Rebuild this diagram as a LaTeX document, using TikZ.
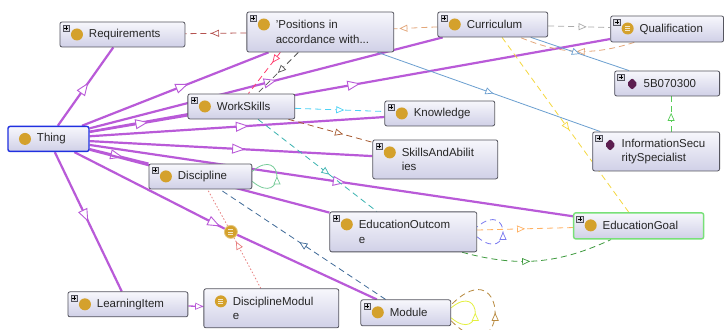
\documentclass[tikz,border=0pt]{standalone}
\usepackage{fontspec}
\setmainfont{Liberation Sans}
\usepackage{tikz}
\usetikzlibrary{arrows.meta,decorations.markings}

\definecolor{boxtop}{HTML}{F7F7FC}
\definecolor{boxbot}{HTML}{D0D0E7}
\definecolor{boxline}{HTML}{55555F}
\definecolor{plusfill}{HTML}{D8D8E0}
\definecolor{clsc}{HTML}{D4A12C}
\definecolor{indc}{HTML}{5C1E50}
\definecolor{isac}{HTML}{B95AD8}
\definecolor{thingc}{HTML}{2030E0}
\definecolor{goalc}{HTML}{78E078}
\definecolor{reqred}{HTML}{B5524F}
\definecolor{tanl}{HTML}{E3A77A}
\definecolor{greyl}{HTML}{AAAAAA}
\definecolor{skyl}{HTML}{6B9FD0}
\definecolor{yell}{HTML}{F5D840}
\definecolor{grnl}{HTML}{55CC55}
\definecolor{pinkl}{HTML}{FF3D6E}
\definecolor{darkl}{HTML}{555555}
\definecolor{cyanl}{HTML}{4DD2F5}
\definecolor{brownl}{HTML}{A65A30}
\definecolor{teall}{HTML}{3AB3B0}
\definecolor{navyl}{HTML}{3F6A98}
\definecolor{dotred}{HTML}{E88080}
\definecolor{orngl}{HTML}{FFB264}
\definecolor{dgrnl}{HTML}{3E9A3E}
\definecolor{loopgrn}{HTML}{77CC99}
\definecolor{loopblu}{HTML}{7A7AF0}
\definecolor{loopyel}{HTML}{E4F040}
\definecolor{loopbrn}{HTML}{B8893E}

\pgfdeclarelayer{edges}
\pgfsetlayers{edges,main}

% icons drawn inside the boxes
\newcommand\plusbox{%
  \draw[fill=plusfill,draw=boxline,line width=0.4pt,sharp corners] ([xshift=3pt,yshift=-3pt]path picture bounding box.north west) rectangle +(6.5pt,-6.5pt);
  \draw[black,line width=0.6pt] ([xshift=4.3pt,yshift=-6.25pt]path picture bounding box.north west) -- +(3.9pt,0pt);
  \draw[black,line width=0.6pt] ([xshift=6.25pt,yshift=-4.3pt]path picture bounding box.north west) -- +(0pt,-3.9pt);}
\newcommand\clsicon{\fill[clsc] ([xshift=17pt,yshift=-12.5pt]path picture bounding box.north west) circle (6pt);}
\newcommand\eqicon{\clsicon
  \foreach \dy in {10.3pt,12.5pt,14.7pt}
    \draw[clsc!25!white,line width=0.7pt] ([xshift=14.5pt,yshift=-\dy]path picture bounding box.north west) -- +(5pt,0pt);}
\newcommand\indicon{\fill[indc] ([xshift=17.5pt,yshift=-7pt]path picture bounding box.north west) -- +(5.5pt,-6pt) -- +(0pt,-12pt) -- +(-5.5pt,-6pt) -- cycle;}
\newcommand\eqlines{%
  \foreach \dy in {-2.2pt,0pt,2.2pt}
    \draw[clsc!25!white,line width=0.7pt] ([xshift=-2.5pt,yshift=\dy]path picture bounding box.center) -- +(5pt,0pt);}

\tikzset{
  box/.style={draw=boxline, line width=0.8pt, rounded corners=2pt, top color=boxtop, bottom color=boxbot,
    text=black!85, text width=#1, inner xsep=0pt, inner ysep=0pt, minimum height=25pt, align=left,
    font=\fontsize{11.5}{14.5}\selectfont, execute at begin node={\leftskip=29pt}},
  cls/.style={box=#1, path picture={\plusbox\clsicon}},
  eqcls/.style={box=#1, path picture={\plusbox\eqicon}},
  ind/.style={box=#1, path picture={\plusbox\indicon}},
  root/.style={box=#1, draw=thingc, line width=1.4pt, path picture={\clsicon}},
  goal/.style={cls=#1, draw=goalc, line width=1.4pt},
  anon/.style={circle, fill=clsc, draw=clsc!60!white, line width=0.8pt, minimum size=13pt, inner sep=0pt, path picture={\eqlines}},
  tip/.style={postaction={decorate, decoration={markings, mark=at position #1 with {\arrow{Triangle[length=8pt,width=7pt,line width=0.7pt,fill=white]}}}}},
  bigtip/.style={postaction={decorate, decoration={markings, mark=at position #1 with {\arrow{Triangle[length=13pt,width=10pt,line width=0.9pt,fill=white]}}}}},
  isaline/.style={draw=isac, line width=2.2pt},
  isa/.style={isaline, bigtip=#1}, isa/.default=0.55,
  link/.style={line width=0.8pt, tip=#1}, link/.default=0.5,
  dashy/.style={dash pattern=on 6pt off 4pt},
  dotty/.style={dash pattern=on 1.5pt off 2pt}
}

\begin{document}
\begin{tikzpicture}[x=1pt,y=-1pt]
  \node[root=81pt] (thing) at (48.5,139) {Thing};
  \node[cls=125pt] (req) at (122.5,34.5) {Requirements};
  \node[cls=147pt, minimum height=40pt] (pos) at (320.5,32) {'Positions in\\accordance with...};
  \node[cls=110pt] (curr) at (493,24.5) {Curriculum};
  \node[eqcls=113pt, minimum height=26pt] (qual) at (667.5,29) {Qualification};
  \node[ind=105pt] (code) at (667.5,83.5) {5B070300};
  \node[ind=127pt, minimum height=39pt] (spec) at (656.5,151.5) {InformationSecu\\ritySpecialist};
  \node[cls=107pt] (skills) at (241.5,106.5) {WorkSkills};
  \node[cls=110pt] (know) at (440,113.5) {Knowledge};
  \node[cls=125pt, minimum height=39pt] (abil) at (435.5,159.5) {SkillsAndAbilit\\ies};
  \node[cls=103pt] (disc) at (200.5,176.5) {Discipline};
  \node[cls=147pt, minimum height=40pt] (outc) at (403.5,232) {EducationOutcom\\e};
  \node[goal=130pt, minimum height=26pt] (goal) at (639,226) {EducationGoal};
  \node[cls=120pt] (item) at (128,304.5) {LearningItem};
  \node[box=135pt, minimum height=39pt, path picture={\eqicon}] (dmod) at (271.5,308.5) {DisciplineModul\\e};
  \node[cls=90pt, minimum height=26pt] (mod) at (406,313) {Module};
  \node[anon] (anon) at (231,232) {};

  \begin{pgfonlayer}{edges}
    \path[use as bounding box, fill=white] (0,0) rectangle (724,330);

    % subclasses of Thing
    \draw [isa=0.55] (thing) to (req);
    \draw [isa=0.57] (thing) to (pos);
    \draw [isa=0.53] (thing) to (curr);
    \draw [isa=0.52] (thing) to (qual);
    \draw [isa=0.6] (thing) to (skills);
    \draw [isa=0.54] (thing) to (know);
    \draw [isa=0.55] (thing) to (abil);
    \draw [isa=0.57] (thing) to (disc);
    \draw [isa=0.5] (thing) to (outc);
    \draw [isa=0.53] (thing) to (goal);
    \draw [isa=0.5] (thing) to (item);
    \draw [isa=0.97] (thing) to (anon);
    \draw [isaline] (anon) to (mod);
    \draw [link=0.98, draw=isac, line width=1.3pt] (item) to (dmod);

    % properties
    \draw [link=0.58, reqred, dashy] (pos) to (req);
    \draw [link=0.88, tanl, dashy] (curr) to (pos);
    \draw [link=0.62, greyl, dashy] (curr) to (qual);
    \draw [link=0.5, tanl, dashy] ([xshift=24pt]qual.south west) to [bend left=20] ([xshift=-28pt]curr.south east);
    \draw [link=0.52, skyl] (pos) to (spec);
    \draw [link=0.5, skyl] (curr) to (code);
    \draw [link=0.53, yell, dashy] (curr) to (goal);
    \draw [link=0.53, grnl, dashy] ([xshift=15pt]spec.north) to ([xshift=4pt]code.south);
    \draw [link=0.25, pinkl, dashy] ([xshift=-40pt]pos.south) to ([xshift=7pt]skills.north);
    \draw [link=0.5, darkl, dashy] ([xshift=-22pt]pos.south) to ([xshift=16pt]skills.north);
    \draw [link=0.55, cyanl, dashy] (skills) to (know);
    \draw [link=0.65, brownl, dashy] (skills) to (abil);
    \draw [link=0.6, teall, dashy] (skills) to (outc);
    \draw [link=0.52, navyl, dashy] (mod) to (disc);
    \draw [link=0.93, dotred, dotty] (dmod) to (anon);
    \draw [dotred, line width=0.8pt, dotty] (anon) to (disc);
    \draw [link=0.5, orngl, dashy] (outc) to (goal);
    \draw [link=0.45, dgrnl, dashy] ([xshift=-15pt]outc.south east) to [bend right=20] ([xshift=38pt]goal.south west);

    % self loops
    \draw [link=0.5, loopgrn] ([yshift=-5pt]disc.east) .. controls +(-40:43pt) and +(40:43pt) .. ([yshift=5pt]disc.east);
    \draw [link=0.5, loopblu, dashy] ([yshift=-5pt]outc.east) .. controls +(-40:45pt) and +(40:45pt) .. ([yshift=5pt]outc.east);
    \draw [link=0.5, loopyel] ([yshift=-5pt]mod.east) .. controls +(-40:42pt) and +(40:42pt) .. ([yshift=5pt]mod.east);
    \draw [link=0.5, loopbrn, dashy] ([yshift=-8pt]mod.east) .. controls +(-45:83pt) and +(45:83pt) .. ([yshift=8pt]mod.east);
  \end{pgfonlayer}
\end{tikzpicture}
\end{document}
